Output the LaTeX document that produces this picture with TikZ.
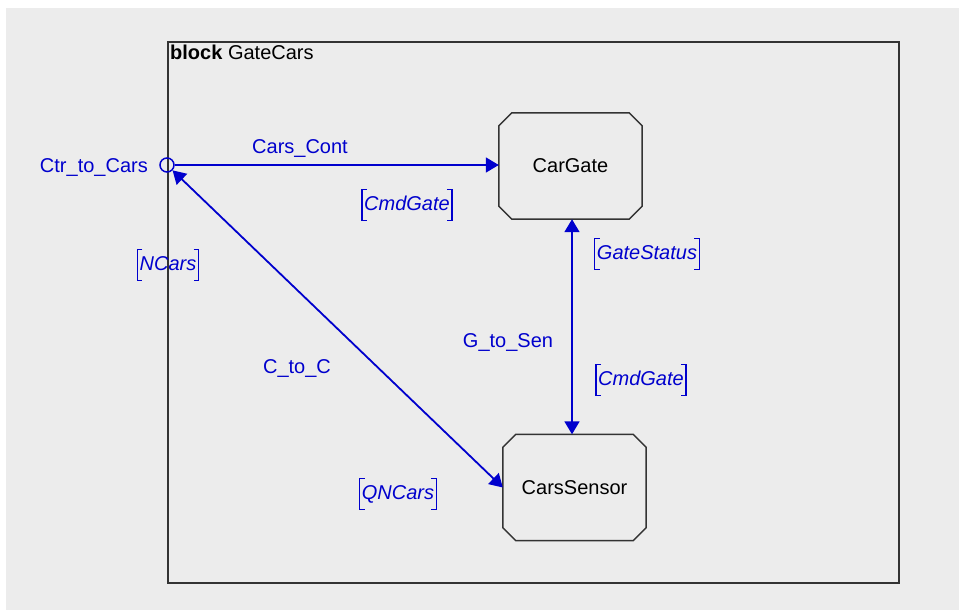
\documentclass[tikz,border=0pt]{standalone}
\usepackage{fontspec}
\setmainfont{Liberation Sans}
\usetikzlibrary{arrows.meta}
\definecolor{panel}{HTML}{ECECEC}
\definecolor{sigblue}{RGB}{0,0,205}
\definecolor{framegrey}{HTML}{333333}

\begin{document}
\begin{tikzpicture}[x=1pt,y=-1pt,
  every node/.style={font=\fontsize{20}{24}\selectfont},
  frameline/.style={draw=framegrey, line width=2pt},
  partbox/.style={minimum width=143pt, minimum height=106pt, inner sep=0pt, text=black},
  partline/.style={draw=framegrey, line width=1.5pt},
  portmark/.style={circle, draw=sigblue, line width=1.5pt, minimum size=14pt, inner sep=0pt},
  wire/.style={draw=sigblue, line width=1.8pt},
  tip/.style={-{Triangle[length=13pt,width=15pt]}},
  bitip/.style={{Triangle[length=13pt,width=15pt]}-{Triangle[length=13pt,width=15pt]}},
  flowname/.style={text=sigblue, inner sep=0pt},
  sig/.style={text=sigblue, font=\fontsize{20}{24}\selectfont\itshape,
    text height=16pt, text depth=5pt, inner ysep=5pt, inner xsep=2pt},
  brk/.style={draw=sigblue, line width=1.4pt}
]
% canvas and grey panel
\useasboundingbox (0,0) rectangle (959,610);
\fill[panel] (6,8) rectangle (959,610);

% enclosing block
\node[frameline, minimum width=731pt, minimum height=541pt, inner sep=0pt,
      anchor=north west] (blk) at (167,41) {};
\node[anchor=north west, inner sep=1pt] (title) at (169,44) {\textbf{block} GateCars};

% parts
\node[partbox] (gate) at (570.5,166) {CarGate};
\node[partbox] (sensor) at (574.5,487.5) {CarsSensor};
\foreach \n in {gate,sensor}
  \draw[partline] ([xshift=13pt]\n.north west) -- ([xshift=-13pt]\n.north east)
    -- ([yshift=-13pt]\n.north east) -- ([yshift=13pt]\n.south east)
    -- ([xshift=-13pt]\n.south east) -- ([xshift=13pt]\n.south west)
    -- ([yshift=13pt]\n.south west) -- ([yshift=-13pt]\n.north west) -- cycle;

% port on the block boundary
\node[portmark] (port) at (167,165) {};
\node[flowname, anchor=base east] (portname) at (148,172) {Ctr\_to\_Cars};

% flows
\draw[wire, tip] (port) -- (port -| gate.west);
\draw[wire, bitip] (port) -- (sensor.west);
\draw[wire, bitip] (gate.south -| 572,0) -- (sensor.north -| 572,0);

% flow names
\node[flowname, anchor=base] (f1) at (300,153) {Cars\_Cont};
\node[flowname, anchor=base] (f2) at (297,373) {C\_to\_C};
\node[flowname, anchor=base] (f3) at (508,347) {G\_to\_Sen};

% conveyed signals
\node[sig] (s1) at (407,205) {CmdGate};
\node[sig] (s2) at (168,265) {NCars};
\node[sig] (s3) at (398,494) {QNCars};
\node[sig] (s4) at (647,254) {GateStatus};
\node[sig] (s5) at (641,380) {CmdGate};
\foreach \n in {s1,s2,s3,s4,s5} {
  \draw[brk] ([xshift=5pt]\n.north west) -| (\n.south west) -- ++(5,0);
  \draw[brk] ([xshift=-5pt]\n.north east) -| (\n.south east) -- ++(-5,0);
}
\end{tikzpicture}
\end{document}
